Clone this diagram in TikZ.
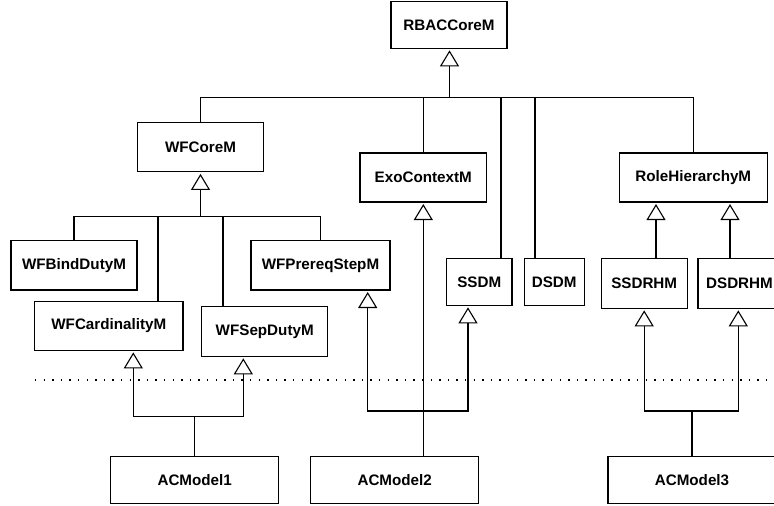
\documentclass[tikz,border=0pt]{standalone}
\usepackage{fontspec}
\setmainfont{Liberation Sans}
\usetikzlibrary{arrows.meta}
\begin{document}
\begin{tikzpicture}[x=1pt,y=-1pt,
  line width=1.1pt,
  box/.style={draw, rectangle, inner sep=0pt, font=\fontsize{15.2}{18}\selectfont\bfseries},
  gen/.style={-{Triangle[open,length=16pt,width=19pt,line width=1.1pt]}, shorten >=1.5pt},
  layer/.style={line width=1.2pt, dash pattern=on 1.3pt off 7.3pt}]
\useasboundingbox (0,0) rectangle (774,506);

% abstract modules
\node[box, minimum width=116pt, minimum height=46.6pt] (rbac) at (449,25) {RBACCoreM};
\node[box, minimum width=126.7pt, minimum height=49.7pt] (wfcore) at (200.5,147) {WFCoreM};
\node[box, minimum width=126.7pt, minimum height=49pt] (exo) at (423.3,177.5) {ExoContextM};
\node[box, minimum width=148pt, minimum height=49pt] (rh) at (693.3,177.5) {RoleHierarchyM};
\node[box, minimum width=126pt, minimum height=49.3pt] (bind) at (74,265.3) {WFBindDutyM};
\node[box, minimum width=139pt, minimum height=49.3pt] (prereq) at (320.5,265.3) {WFPrereqStepM};
\node[box, minimum width=148.3pt, minimum height=49.3pt] (card) at (108.8,325.7) {WFCardinalityM};
\node[box, minimum width=126pt, minimum height=50pt] (sep) at (264.7,331.3) {WFSepDutyM};
\node[box, minimum width=65.3pt, minimum height=47pt] (ssdm) at (479.3,281.8) {SSDM};
\node[box, minimum width=59.7pt, minimum height=47pt] (dsdm) at (554.2,281.8) {DSDM};
\node[box, minimum width=86.3pt, minimum height=50pt] (ssdrh) at (644.2,283.3) {SSDRHM};
\node[box, minimum width=83pt, minimum height=50pt] (dsdrh) at (739.5,283.3) {DSDRHM};

% concrete models
\node[box, minimum width=168pt, minimum height=47.3pt] (acm1) at (194.7,479.7) {ACModel1};
\node[box, minimum width=168pt, minimum height=47.3pt] (acm2) at (394.7,479.7) {ACModel2};
\node[box, minimum width=168pt, minimum height=47.3pt] (acm3) at (692,479.7) {ACModel3};

% layer separator
\coordinate (sepL) at (35,380);
\coordinate (sepR) at (774,380);
\draw[layer] (sepL) -- (sepR);

% RBACCoreM and its direct extensions
\coordinate (busA) at (449.5,97.7);
\draw[gen] (busA) -- (rbac.south -| busA);
\draw (wfcore.north) |- (busA);
\draw (exo.north) |- (busA);
\draw ([xshift=21.7pt]ssdm.north) |- (busA);
\draw ([xshift=-19.2pt]dsdm.north) |- (busA);
\draw (rh.north) |- (busA);

% WFCoreM and its extensions
\coordinate (busB) at (200.5,216.7);
\draw[gen] (busB) -- (wfcore.south);
\draw (bind.north) |- (busB);
\draw ([xshift=49.2pt]card.north) |- (busB);
\draw ([xshift=-41.7pt]sep.north) |- (busB);
\draw (prereq.north) |- (busB);

% RoleHierarchyM extensions
\draw[gen] ([xshift=11.8pt]ssdrh.north) -- ([xshift=-37.3pt]rh.south);
\draw[gen] ([xshift=-9.5pt]dsdrh.north) -- ([xshift=36.7pt]rh.south);

% ACModel1
\coordinate (busC) at (194.7,416.7);
\draw (acm1.north) -- (busC);
\draw[gen] (busC) -| ([xshift=24.5pt]card.south);
\draw[gen] (busC) -| ([xshift=-21.4pt]sep.south);

% ACModel2
\draw[gen] (exo.south |- acm2.north) -- (exo.south);
\coordinate (busD) at (423,411);
\draw[gen] (busD) -| ([xshift=47.2pt]prereq.south);
\draw[gen] (busD) -| ([xshift=-11.3pt]ssdm.south);

% ACModel3
\coordinate (busE) at (692,411);
\draw (acm3.north) -- (busE);
\draw[gen] (busE) -| (ssdrh.south);
\draw[gen] (busE) -| ([xshift=-1.2pt]dsdrh.south);
\end{tikzpicture}
\end{document}
